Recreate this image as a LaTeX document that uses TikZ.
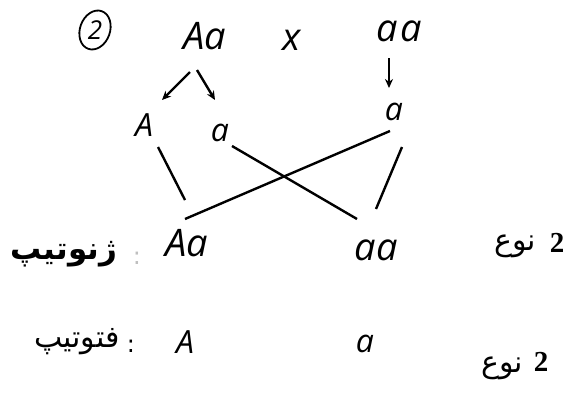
\documentclass[tikz,border=0pt]{standalone}
\usepackage{fontspec}
\usepackage{tikz}
\usetikzlibrary{arrows.meta}
\newfontfamily\handfont{Open Sans}
\newfontfamily\numfont{Liberation Serif}
\newfontfamily\farsifont[Script=Arabic]{DejaVu Sans}
\TeXXeTstate=1

\begin{document}
\begin{tikzpicture}[x=1pt,y=-1pt,
    big/.style={inner sep=1pt,font=\handfont\itshape\fontsize{38}{40}\selectfont},
    hand/.style={inner sep=1pt,font=\handfont\itshape\fontsize{32}{34}\selectfont},
    fa/.style={inner sep=1pt,font=\farsifont\fontsize{#1}{#1}\selectfont},
    count/.style={inner sep=1pt,font=\numfont\bfseries\fontsize{29}{29}\selectfont},
    link/.style={line width=2.4pt},
    pick/.style={line width=2.4pt,-{Stealth[length=9pt,width=8pt]}}]
  \useasboundingbox (0,0) rectangle (576,400);
  % parents
  \node[inner sep=1pt,font=\handfont\itshape\fontsize{26}{28}\selectfont] (num) at (95,30) {2};
  \draw[line width=1.8pt,rotate around={-20:(num.center)}] (num.center) ellipse [x radius=15, y radius=20];
  \node[big] (PAa) at (205,36) {Aa};
  \node[big] (cross) at (292,40) {x};
  \node[big] (Paa) at (399,31) {a\kern3pt a};
  % gametes
  \node[hand] (gA) at (144,125) {A};
  \node[hand] (ga) at (220,133) {a};
  \node[hand] (gb) at (394,112) {a};
  \draw[pick] ([shift={(-15,36)}]PAa.center) -- ([shift={(18,-25)}]gA.center);
  \draw[pick] ([shift={(-8,34)}]PAa.center) -- ([shift={(-5,-33)}]ga.center);
  \draw[pick] ([shift={(-10,27)}]Paa.center) -- ([shift={(-5,-24)}]gb.center);
  % offspring
  \node[big] (FAa) at (187,243) {Aa};
  \node[big] (Faa) at (376,250) {a\kern1pt a};
  \draw[link] ([shift={(14,22)}]gA.center) -- ([shift={(-2,-43)}]FAa.center);
  \draw[link] ([shift={(12,13)}]ga.center) -- ([shift={(-19,-31)}]Faa.center);
  \draw[link] ([shift={(-4,19)}]gb.center) -- ([shift={(-2,-24)}]FAa.center);
  \draw[link] ([shift={(8,35)}]gb.center) -- ([shift={(0,-41)}]Faa.center);
  % genotype row
  \node[inner sep=1pt,font=\farsifont\bfseries\fontsize{31}{31}\selectfont] (geno) at (64,254) {\beginR ژنوتیپ\endR};
  \node[fa=24,text=black!25] (genoc) at (137,258) {:};
  \node[fa=30] (ngeno) at (515,246) {\beginR نوع\endR};
  \node[count] (ngenoN) at (557,243) {2};
  % phenotype row
  \node[fa=30] (feno) at (77,342) {\beginR فتوتیپ\endR};
  \node[fa=24] (fenoc) at (131,346) {:};
  \node[hand] (pA) at (185,342) {A};
  \node[hand] (pa) at (365,344) {a};
  \node[fa=30] (nfeno) at (502,368) {\beginR نوع\endR};
  \node[count] (nfenoN) at (541,362) {2};
\end{tikzpicture}
\end{document}
